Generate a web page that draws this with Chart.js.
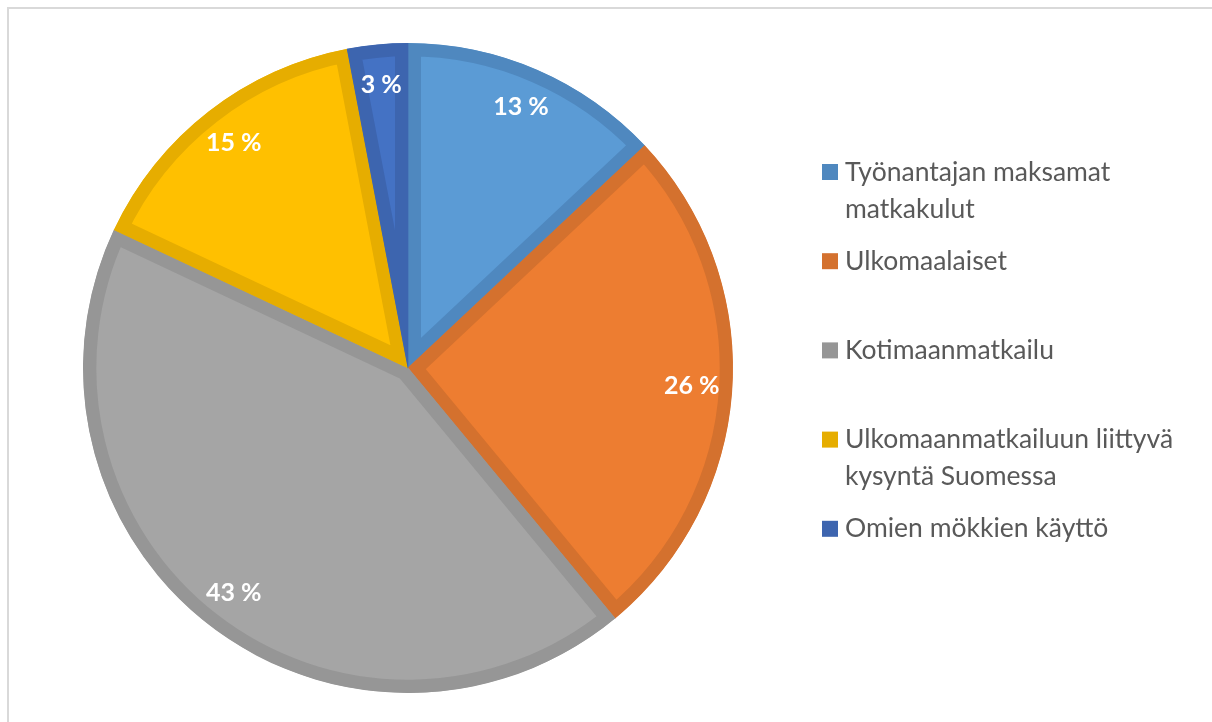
<!DOCTYPE html>
<html lang="fi">
<head>
    <meta charset="UTF-8">
    <title>Matkailukysyntä</title>
    <script src="https://cdn.jsdelivr.net/npm/chart.js"></script>
    <style>
        html, body { margin: 0; padding: 0; background: #fff; overflow: hidden; }
        #wrap { position: relative; width: 1212px; height: 722px; }
    </style>
</head>
<body>
    <div id="wrap">
        <canvas id="pieChart" width="1212" height="722"></canvas>
    </div>

    <script>
        // Data
        const labels = [
            ['Työnantajan maksamat', 'matkakulut'],
            ['Ulkomaalaiset'],
            ['Kotimaanmatkailu'],
            ['Ulkomaanmatkailuun liittyvä', 'kysyntä Suomessa'],
            ['Omien mökkien käyttö']
        ];
        const shares = [13, 26, 43, 15, 3];
        const fillColors = ['#5B9BD5', '#ED7D31', '#A5A5A5', '#FFC000', '#4472C4'];
        const edgeColors = ['#4F88BF', '#D4712E', '#969696', '#E6AD00', '#3D65AF'];

        // light frame around the chart (only top and left edges visible)
        const framePlugin = {
            id: 'frame',
            beforeDraw(chart) {
                const c = chart.ctx;
                c.save();
                c.fillStyle = '#D9D9D9';
                c.fillRect(7, 7, chart.width, 2);
                c.fillRect(7, 7, 2, chart.height);
                c.restore();
            }
        };

        // white percentage labels inside the slices
        const valueLabels = {
            id: 'valueLabels',
            afterDatasetsDraw(chart) {
                const c = chart.ctx;
                const arcs = chart.getDatasetMeta(0).data;
                c.save();
                c.fillStyle = '#FFFFFF';
                c.font = 'bold 25px Lato, "Open Sans", sans-serif';
                c.textAlign = 'center';
                c.textBaseline = 'middle';
                arcs.forEach((arc, i) => {
                    const p = arc.getProps(['x', 'y', 'startAngle', 'endAngle', 'outerRadius'], true);
                    const mid = (p.startAngle + p.endAngle) / 2;
                    const r = p.outerRadius * 0.875;
                    c.fillText(shares[i] + ' %', p.x + Math.cos(mid) * r, p.y + Math.sin(mid) * r);
                });
                c.restore();
            }
        };

        // legend on the right, items spaced evenly by their first line
        const sideLegend = {
            id: 'sideLegend',
            afterDraw(chart) {
                const c = chart.ctx;
                const x0 = 822, y0 = 172, step = 89.2, lineH = 37;
                c.save();
                c.font = '26.5px Lato, "Open Sans", sans-serif';
                c.textBaseline = 'middle';
                c.textAlign = 'left';
                labels.forEach((lab, i) => {
                    const y = y0 + i * step;
                    c.fillStyle = edgeColors[i];
                    c.fillRect(x0, y - 8, 16, 16);
                    c.fillStyle = '#595959';
                    lab.forEach((line, j) => c.fillText(line, x0 + 23, y + j * lineH));
                });
                c.restore();
            }
        };

        const ctx = document.getElementById('pieChart').getContext('2d');
        new Chart(ctx, {
            type: 'pie',
            data: {
                labels: labels.map(l => l.join(' ')),
                datasets: [{
                    data: shares,
                    backgroundColor: fillColors,
                    borderColor: edgeColors,
                    borderWidth: 13,
                    borderAlign: 'inner',
                    borderJoinStyle: 'miter',
                    hoverBorderWidth: 0
                }]
            },
            options: {
                responsive: false,
                animation: false,
                layout: { padding: { left: 83, right: 479, top: 43, bottom: 29 } },
                plugins: {
                    legend: { display: false },
                    tooltip: { enabled: false }
                }
            },
            plugins: [framePlugin, valueLabels, sideLegend]
        });
    </script>
</body>
</html>
